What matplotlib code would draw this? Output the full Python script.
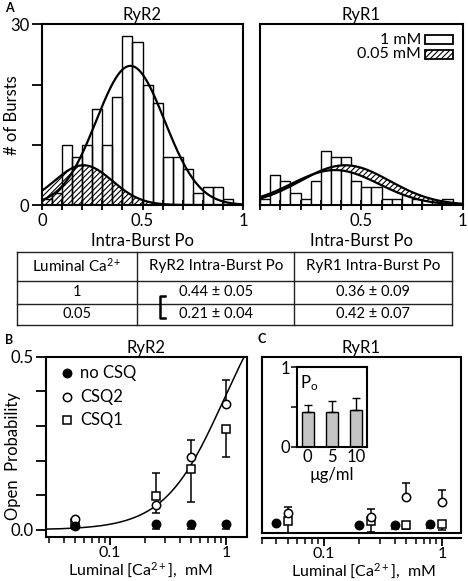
import matplotlib
matplotlib.use('Agg')
import matplotlib.pyplot as plt
from matplotlib.patches import Rectangle
import numpy as np

plt.rcParams['font.family'] = ['Lato', 'DejaVu Sans']
plt.rcParams['mathtext.fontset'] = 'custom'
plt.rcParams['mathtext.rm'] = 'Lato'
plt.rcParams['mathtext.it'] = 'Lato:italic'
plt.rcParams['hatch.linewidth'] = 0.8
plt.rcParams['font.size'] = 12

W, H = 468, 581

# ---- data -------------------------------------------------------------
# panel A: intra-burst Po histograms (bin width 0.05)
bin_left = np.arange(0, 1, 0.05)
ryr2_counts = [1, 2, 10, 8, 10, 16, 10, 18, 28, 27, 20, 17, 8, 8, 6, 2, 3, 3, 1, 0]
ryr1_counts = [1, 5, 4, 2, 1, 4, 9, 8, 8, 4, 3, 3, 1, 1, 2, 1, 1, 0, 1, 0]
# gaussian fits: amplitude, mean, sd
ryr2_fit_1mM = [23.1, 0.44, 0.17]
ryr2_fit_005 = [6.6, 0.206, 0.144]
ryr1_fit_1mM = [5.8, 0.37, 0.215]
ryr1_fit_005 = [6.6, 0.42, 0.22]

table_header = ['Luminal Ca$^{2+}$', 'RyR2 Intra-Burst Po', 'RyR1 Intra-Burst Po']
table_rows = [['1', '0.44 ± 0.05', '0.36 ± 0.09'],
              ['0.05', '0.21 ± 0.04', '0.42 ± 0.07']]

# panel B: RyR2 open probability vs luminal Ca
ca_mM = [0.05, 0.25, 0.5, 1.0]
b_nocsq = [0.010, 0.018, 0.018, 0.018]
b_nocsq_lo = [0.008, 0.016, 0.016, 0.016]
b_csq2 = [0.032, 0.072, 0.210, 0.362]
b_csq2_lo = [0.0, 0.024, 0.0, 0.0]
b_csq2_hi = [0.0, 0.0, 0.050, 0.071]
b_csq1 = [0.019, 0.099, 0.176, 0.290]
b_csq1_lo = [0.012, 0.0, 0.096, 0.081]
b_csq1_hi = [0.0, 0.066, 0.0, 0.0]
hill_fit = [0.75, 0.95, 1.7]  # Pmax, K (mM), n

# panel C: RyR1
ca_nocsq_c = [0.04, 0.2, 0.4, 0.8]
c_nocsq = [0.010, 0.002, 0.004, 0.005]
c_nocsq_lo = [0.0, 0.006, 0.012, 0.012]
c_csq2 = [0.039, 0.027, 0.086, 0.071]
c_csq2_hi = [0.018, 0.022, 0.041, 0.035]
c_csq1 = [0.015, 0.015, 0.003, 0.007]
c_csq1_lo = [0.035, 0.032, 0.012, 0.020]

inset_conc = ['0', '5', '10']
inset_po = [0.44, 0.44, 0.46]
inset_err = [0.09, 0.136, 0.15]

legend_labels = ['no CSQ', 'CSQ2', 'CSQ1']


def gauss(x, p):
    return p[0] * np.exp(-(x - p[1]) ** 2 / (2 * p[2] ** 2))


def fax(l, t, r, b):
    return fig.add_axes([l / W, 1 - b / H, (r - l) / W, (b - t) / H])


def thick(ax):
    for s in ax.spines.values():
        s.set_linewidth(1.5)


fig = plt.figure(figsize=(W / 100, H / 100), dpi=100)

# ---- panel A ----------------------------------------------------------
xs = np.linspace(0, 1, 300)
axL = fax(42, 24.3, 243, 205)
axL.fill_between(xs, 0, gauss(xs, ryr2_fit_005), facecolor='white', edgecolor='k',
                 hatch='//////', lw=0, zorder=1)
axL.bar(bin_left, ryr2_counts, width=0.05, align='edge', fill=False,
        edgecolor='k', lw=1, zorder=2)
axL.plot(xs, gauss(xs, ryr2_fit_005), 'k', lw=1.6, zorder=3)
axL.plot(xs, gauss(xs, ryr2_fit_1mM), 'k', lw=1.6, zorder=3)
axL.set_ylim(0, 30)
axL.set_yticks([0, 30])
axL.set_yticks([10, 20], minor=True)
axL.tick_params(axis='y', which='both', length=7, width=1.3, pad=2)
axL.set_ylabel('# of Bursts')
axL.yaxis.set_label_coords(-0.11, 0.5)
axL.set_title('RyR2', fontsize=12, pad=3)

axR = fax(260, 24.3, 462.7, 205)
axR.bar(bin_left, ryr1_counts, width=0.05, align='edge', facecolor='white',
        edgecolor='k', lw=1, zorder=1)
g1 = gauss(xs, ryr1_fit_1mM)
g05 = gauss(xs, ryr1_fit_005)
axR.fill_between(xs, g1, g05, where=g05 > g1, facecolor='white', edgecolor='k',
                 hatch='//////', lw=0, zorder=2)
axR.plot(xs, g05, 'k', lw=1.6, zorder=3)
axR.plot(xs, g1, 'k', lw=1.6, zorder=3)
axR.set_ylim(0, 30)
axR.set_yticks([])
axR.set_title('RyR1', fontsize=12, pad=3)
# legend boxes
for yb, lab, hatch in [(0.89, '1 mM', None), (0.808, '0.05 mM', '//////')]:
    axR.add_patch(Rectangle((0.814, yb), 0.138, 0.05, transform=axR.transAxes,
                            facecolor='white', edgecolor='k', lw=1.3, hatch=hatch,
                            zorder=5))
    axR.text(0.795, yb + 0.025, lab, transform=axR.transAxes, ha='right',
             va='center', fontsize=11.5)

for ax in (axL, axR):
    ax.set_xlim(0, 1)
    ax.set_xticks([0, 0.5, 1])
    ax.set_xticks(np.arange(0.1, 1, 0.1), minor=True)
    ax.tick_params(axis='x', which='both', direction='inout', length=7, width=1.3,
                   pad=2)
    ax.set_xlabel('Intra-Burst Po', labelpad=3)
    thick(ax)
axL.set_xticklabels(['0', '0.5', '1'])
axR.set_xticklabels(['', '0.5', '1'])

# ---- table -------------------------------------------------------------
ov = fig.add_axes([0, 0, 1, 1])
ov.set_xlim(0, W)
ov.set_ylim(H, 0)
ov.axis('off')
row_y = [251.7, 280.7, 304, 325]
col_x = [16.7, 137.3, 294.3, 451.7]
for y in row_y:
    ov.plot([col_x[0], col_x[-1]], [y, y], color='#222222', lw=1)
for x in col_x:
    ov.plot([x, x], [row_y[0], row_y[-1]], color='#222222', lw=1)
for j, txt in enumerate(table_header):
    ov.text((col_x[j] + col_x[j + 1]) / 2, (row_y[0] + row_y[1]) / 2, txt,
            ha='center', va='center', fontsize=11)
for i, row in enumerate(table_rows):
    for j, txt in enumerate(row):
        ov.text((col_x[j] + col_x[j + 1]) / 2, (row_y[i + 1] + row_y[i + 2]) / 2, txt,
                ha='center', va='center', fontsize=10.5)
ov.plot([165, 160, 160, 165], [296, 296, 318, 318], color='k', lw=1.8)
ov.text(5, 8, 'A', fontsize=9, fontweight='bold', va='center')
ov.text(5, 340, 'B', fontsize=9, fontweight='bold', va='center')
ov.text(258, 339, 'C', fontsize=9, fontweight='bold', va='center')

# ---- panel B -----------------------------------------------------------
mk = dict(ms=6, mec='k', mew=1.1, capsize=3, elinewidth=1.1, ecolor='k',
          capthick=1.1, ls='none', zorder=3)
axB = fax(45.7, 356.7, 246.7, 536.7)
cx = np.logspace(np.log10(0.028), np.log10(1.5), 200)
axB.plot(cx, hill_fit[0] * cx ** hill_fit[2] / (cx ** hill_fit[2] + hill_fit[1] ** hill_fit[2]),
         'k', lw=1.1, zorder=2)
axB.errorbar(ca_mM, b_csq1, yerr=[b_csq1_lo, b_csq1_hi], marker='s', mfc='white', **mk)
axB.errorbar(ca_mM, b_csq2, yerr=[b_csq2_lo, b_csq2_hi], marker='o', mfc='white', **mk)
axB.errorbar(ca_mM, b_nocsq, yerr=[b_nocsq_lo, [0] * 4], marker='o', mfc='k', **mk)
axB.set_xscale('log')
axB.set_xlim(0.028, 1.5)
axB.set_ylim(-0.02, 0.5)
axB.set_yticks([0, 0.5])
axB.set_yticklabels(['0.0', '0.5'])
axB.set_yticks([0.1, 0.2, 0.3, 0.4], minor=True)
axB.tick_params(axis='y', which='both', length=7, width=1.3, pad=2)
axB.set_ylabel('Open  Probability')
axB.yaxis.set_label_coords(-0.125, 0.45)
axB.set_title('RyR2', fontsize=12, pad=3)
# legend
for yl, lab, m, fc in zip([0.909, 0.776, 0.648], legend_labels,
                          ['o', 'o', 's'], ['k', 'white', 'white']):
    axB.plot([0.104], [yl], marker=m, mfc=fc, mec='k', mew=1.1, ms=6,
             transform=axB.transAxes, clip_on=False)
    axB.text(0.17, yl, lab, transform=axB.transAxes, va='center', fontsize=12)

# ---- panel C -----------------------------------------------------------
axC = fax(261.7, 356.7, 461, 532.7)
axC.errorbar(ca_mM, c_csq1, yerr=[c_csq1_lo, [0] * 4], marker='s', mfc='white', **mk)
axC.errorbar(ca_mM, c_csq2, yerr=[[0] * 4, c_csq2_hi], marker='o', mfc='white', **mk)
axC.errorbar(ca_nocsq_c, c_nocsq, yerr=[c_nocsq_lo, [0] * 4], marker='o', mfc='k', **mk)
axC.set_xscale('log')
axC.set_xlim(0.03, 1.45)
axC.set_ylim(-0.02, 0.5)
axC.set_yticks([])
axC.spines['bottom'].set_position(('outward', 4))
axC.plot([0, 1], [0, 0], transform=axC.transAxes, color='k', lw=1.5, clip_on=False)
axC.set_title('RyR1', fontsize=12, pad=3)

for ax in (axB, axC):
    ax.set_xticks([0.1, 1])
    ax.set_xticklabels(['0.1', '1'])
    ax.tick_params(axis='x', which='major', length=6, width=1.3, pad=0.5,
                   labelsize=11.5)
    ax.tick_params(axis='x', which='minor', length=4, width=1.1)
    ax.set_xlabel(r'Luminal [Ca$^{2+}$],  mM', fontsize=11.5)
    thick(ax)
axB.xaxis.set_label_coords(0.47, -0.135)
axC.xaxis.set_label_coords(0.51, -0.165)

# inset
axI = fax(296.7, 367.3, 366.7, 446.7)
pos = np.arange(len(inset_conc))
axI.bar(pos, inset_po, width=0.5, color='#c4c4c4', edgecolor='k', lw=1,
        yerr=[[0] * 3, inset_err], capsize=3, error_kw=dict(elinewidth=1, capthick=1))
axI.set_xlim(-0.45, 2.45)
axI.set_ylim(0, 1)
axI.set_yticks([0, 1])
axI.set_yticks([0.5], minor=True)
axI.tick_params(axis='y', which='both', length=4, width=1.1, pad=1)
axI.set_xticks(pos)
axI.set_xticklabels(inset_conc)
axI.tick_params(axis='x', length=0, pad=2)
axI.set_xlabel('µg/ml', labelpad=1)
axI.text(0.05, 0.8, r'P$_\mathrm{o}$', transform=axI.transAxes, fontsize=12, va='center')
thick(axI)

fig.savefig('out.png', dpi=100)
